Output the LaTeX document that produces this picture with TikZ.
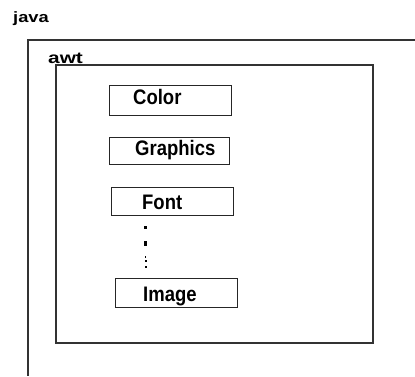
\documentclass[tikz,border=0pt]{standalone}
\usepackage{fontspec}
\setmainfont{Liberation Sans}
\newfontfamily\narrowbold[FakeStretch=0.88]{Liberation Sans Bold}
\newfontfamily\widebold[FakeStretch=1.22]{Liberation Sans Bold}
\newfontfamily\widerbold[FakeStretch=1.3]{Liberation Sans Bold}
\begin{document}
\begin{tikzpicture}[x=1pt,y=-1pt,
    frame/.style={draw=black!80,line width=1.4pt},
    classbox/.style={draw=black!85,line width=1pt,rectangle,inner sep=0pt,anchor=north west},
    label/.style={anchor=base west,inner sep=0pt,font=\narrowbold\fontsize{21}{23}\selectfont},
    pkg/.style={anchor=base west,inner sep=0pt}]
  \useasboundingbox (0,0) rectangle (415,376);
  \fill[white] (0,0) rectangle (415,376);

  % package java: open frame running off the right and bottom
  \node[pkg,font=\widebold\fontsize{15}{17}\selectfont] (java) at (13,22.5) {java};
  \draw[frame] (415,40) -- (28,40) -- (28,376);

  % package awt
  \node[pkg,font=\widerbold\fontsize{16}{18}\selectfont] (awt) at (48,63.5) {awt};
  \draw[frame,line width=1.2pt] (56,65) rectangle (373,343);

  % classes
  \node[classbox,minimum width=122pt,minimum height=30pt] (color) at (109,85) {};
  \node[label] (colort) at (133,104) {Color};

  \node[classbox,minimum width=120pt,minimum height=27pt] (graphics) at (109,137) {};
  \node[label] (graphicst) at (135,155) {Graphics};

  \node[classbox,minimum width=122pt,minimum height=28pt] (font) at (111,187) {};
  \node[label] (fontt) at (142,209) {Font};

  \node[classbox,minimum width=122pt,minimum height=29pt] (image) at (115,278) {};
  \node[label] (imaget) at (143,301) {Image};

  % ellipsis between Font and Image
  \fill[black] (143.5,225.5) rectangle (147,229);
  \fill[black] (144,240.5) rectangle (146.5,245.5);
  \fill[black] (144.5,256) rectangle (146,258);
  \fill[black] (144.5,260) rectangle (146.5,261.5);
  \fill[black] (144.5,266) rectangle (146.5,268);
\end{tikzpicture}
\end{document}
